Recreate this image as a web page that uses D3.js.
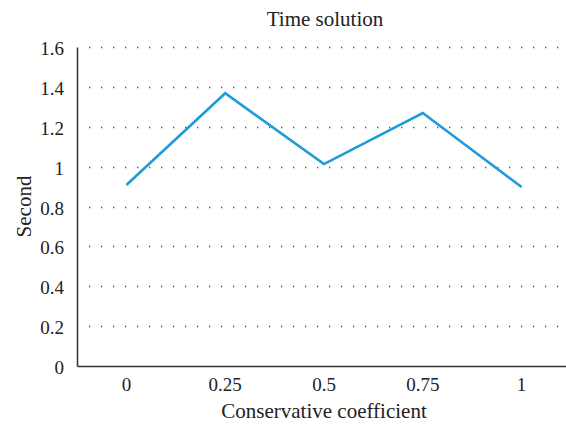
<!DOCTYPE html>
<html>
<head>
<meta charset="utf-8">
<script src="https://cdn.jsdelivr.net/npm/d3@7"></script>
<style>
  body { margin: 0; background: #fff; }
  text { font-family: "Liberation Serif", "Times New Roman", serif; fill: #222; }
</style>
</head>
<body>
<div id="chart"></div>
<script>
// values
var categories = ["0", "0.25", "0.5", "0.75", "1"];
var seconds = [0.908, 1.368, 1.013, 1.269, 0.898];
var yTicks = [0, 0.2, 0.4, 0.6, 0.8, 1, 1.2, 1.4, 1.6];
var chartTitle = "Time solution";
var xTitle = "Conservative coefficient";
var yTitle = "Second";

var width = 566, height = 424;
var margin = {left: 77, right: -5, top: 47, bottom: 58};
var serif = "Liberation Serif, Times New Roman, serif";

var svg = d3.select("#chart").append("svg")
	.attr("width", width)
	.attr("height", height);

var x = d3.scaleBand()
	.domain(categories)
	.range([margin.left, width - margin.right]);

var y = d3.scaleLinear()
	.domain([0, 1.6])
	.range([height - margin.bottom, margin.top]);

// dotted gridlines
svg.append("g").selectAll("line")
	.data(yTicks.slice(1))
	.enter().append("line")
	.attr("x1", margin.left + 12)
	.attr("x2", width)
	.attr("y1", function(d){ return Math.round(y(d)) + 0.5; })
	.attr("y2", function(d){ return Math.round(y(d)) + 0.5; })
	.attr("stroke", "#555")
	.attr("stroke-width", 1.3)
	.attr("stroke-dasharray", "1.3,10.7");

// y axis (no tick marks, only labels)
var yAxis = d3.axisLeft(y).tickValues(yTicks).tickSize(0).tickSizeOuter(0)
	.tickFormat(function(d){ return d3.format("")(+d.toFixed(1)); });
var yg = svg.append("g")
	.attr("transform", "translate(" + margin.left + ",0)")
	.call(yAxis);
yg.select(".domain").attr("stroke", "#333").attr("stroke-width", 1.5);
yg.selectAll(".tick text").attr("x", -13).attr("dy", "0.4em")
	.style("font-size", "19px").style("font-family", serif);

// x axis
var xAxis = d3.axisBottom(x).tickSize(0).tickSizeOuter(0);
var xg = svg.append("g")
	.attr("transform", "translate(0," + (height - margin.bottom) + ")")
	.call(xAxis);
xg.select(".domain").attr("stroke", "#333").attr("stroke-width", 1.5);
xg.selectAll(".tick text").attr("y", 25).attr("dy", null)
	.style("font-size", "19px").style("font-family", serif);

// line
var line = d3.line()
	.x(function(d, i){ return x(categories[i]) + x.bandwidth() / 2; })
	.y(function(d){ return y(d); });

svg.append("path")
	.datum(seconds)
	.attr("d", line)
	.attr("fill", "none")
	.attr("stroke", "#1e9cd7")
	.attr("stroke-width", 2.6)
	.attr("stroke-linejoin", "miter");

// titles
svg.append("text")
	.attr("x", 325)
	.attr("y", 26)
	.attr("text-anchor", "middle")
	.style("font-size", "21px")
	.text(chartTitle);

svg.append("text")
	.attr("x", 324)
	.attr("y", 418)
	.attr("text-anchor", "middle")
	.style("font-size", "21px")
	.text(xTitle);

svg.append("text")
	.attr("transform", "translate(31," + ((margin.top + height - margin.bottom) / 2) + ") rotate(-90)")
	.attr("text-anchor", "middle")
	.style("font-size", "21px")
	.text(yTitle);
</script>
</body>
</html>
